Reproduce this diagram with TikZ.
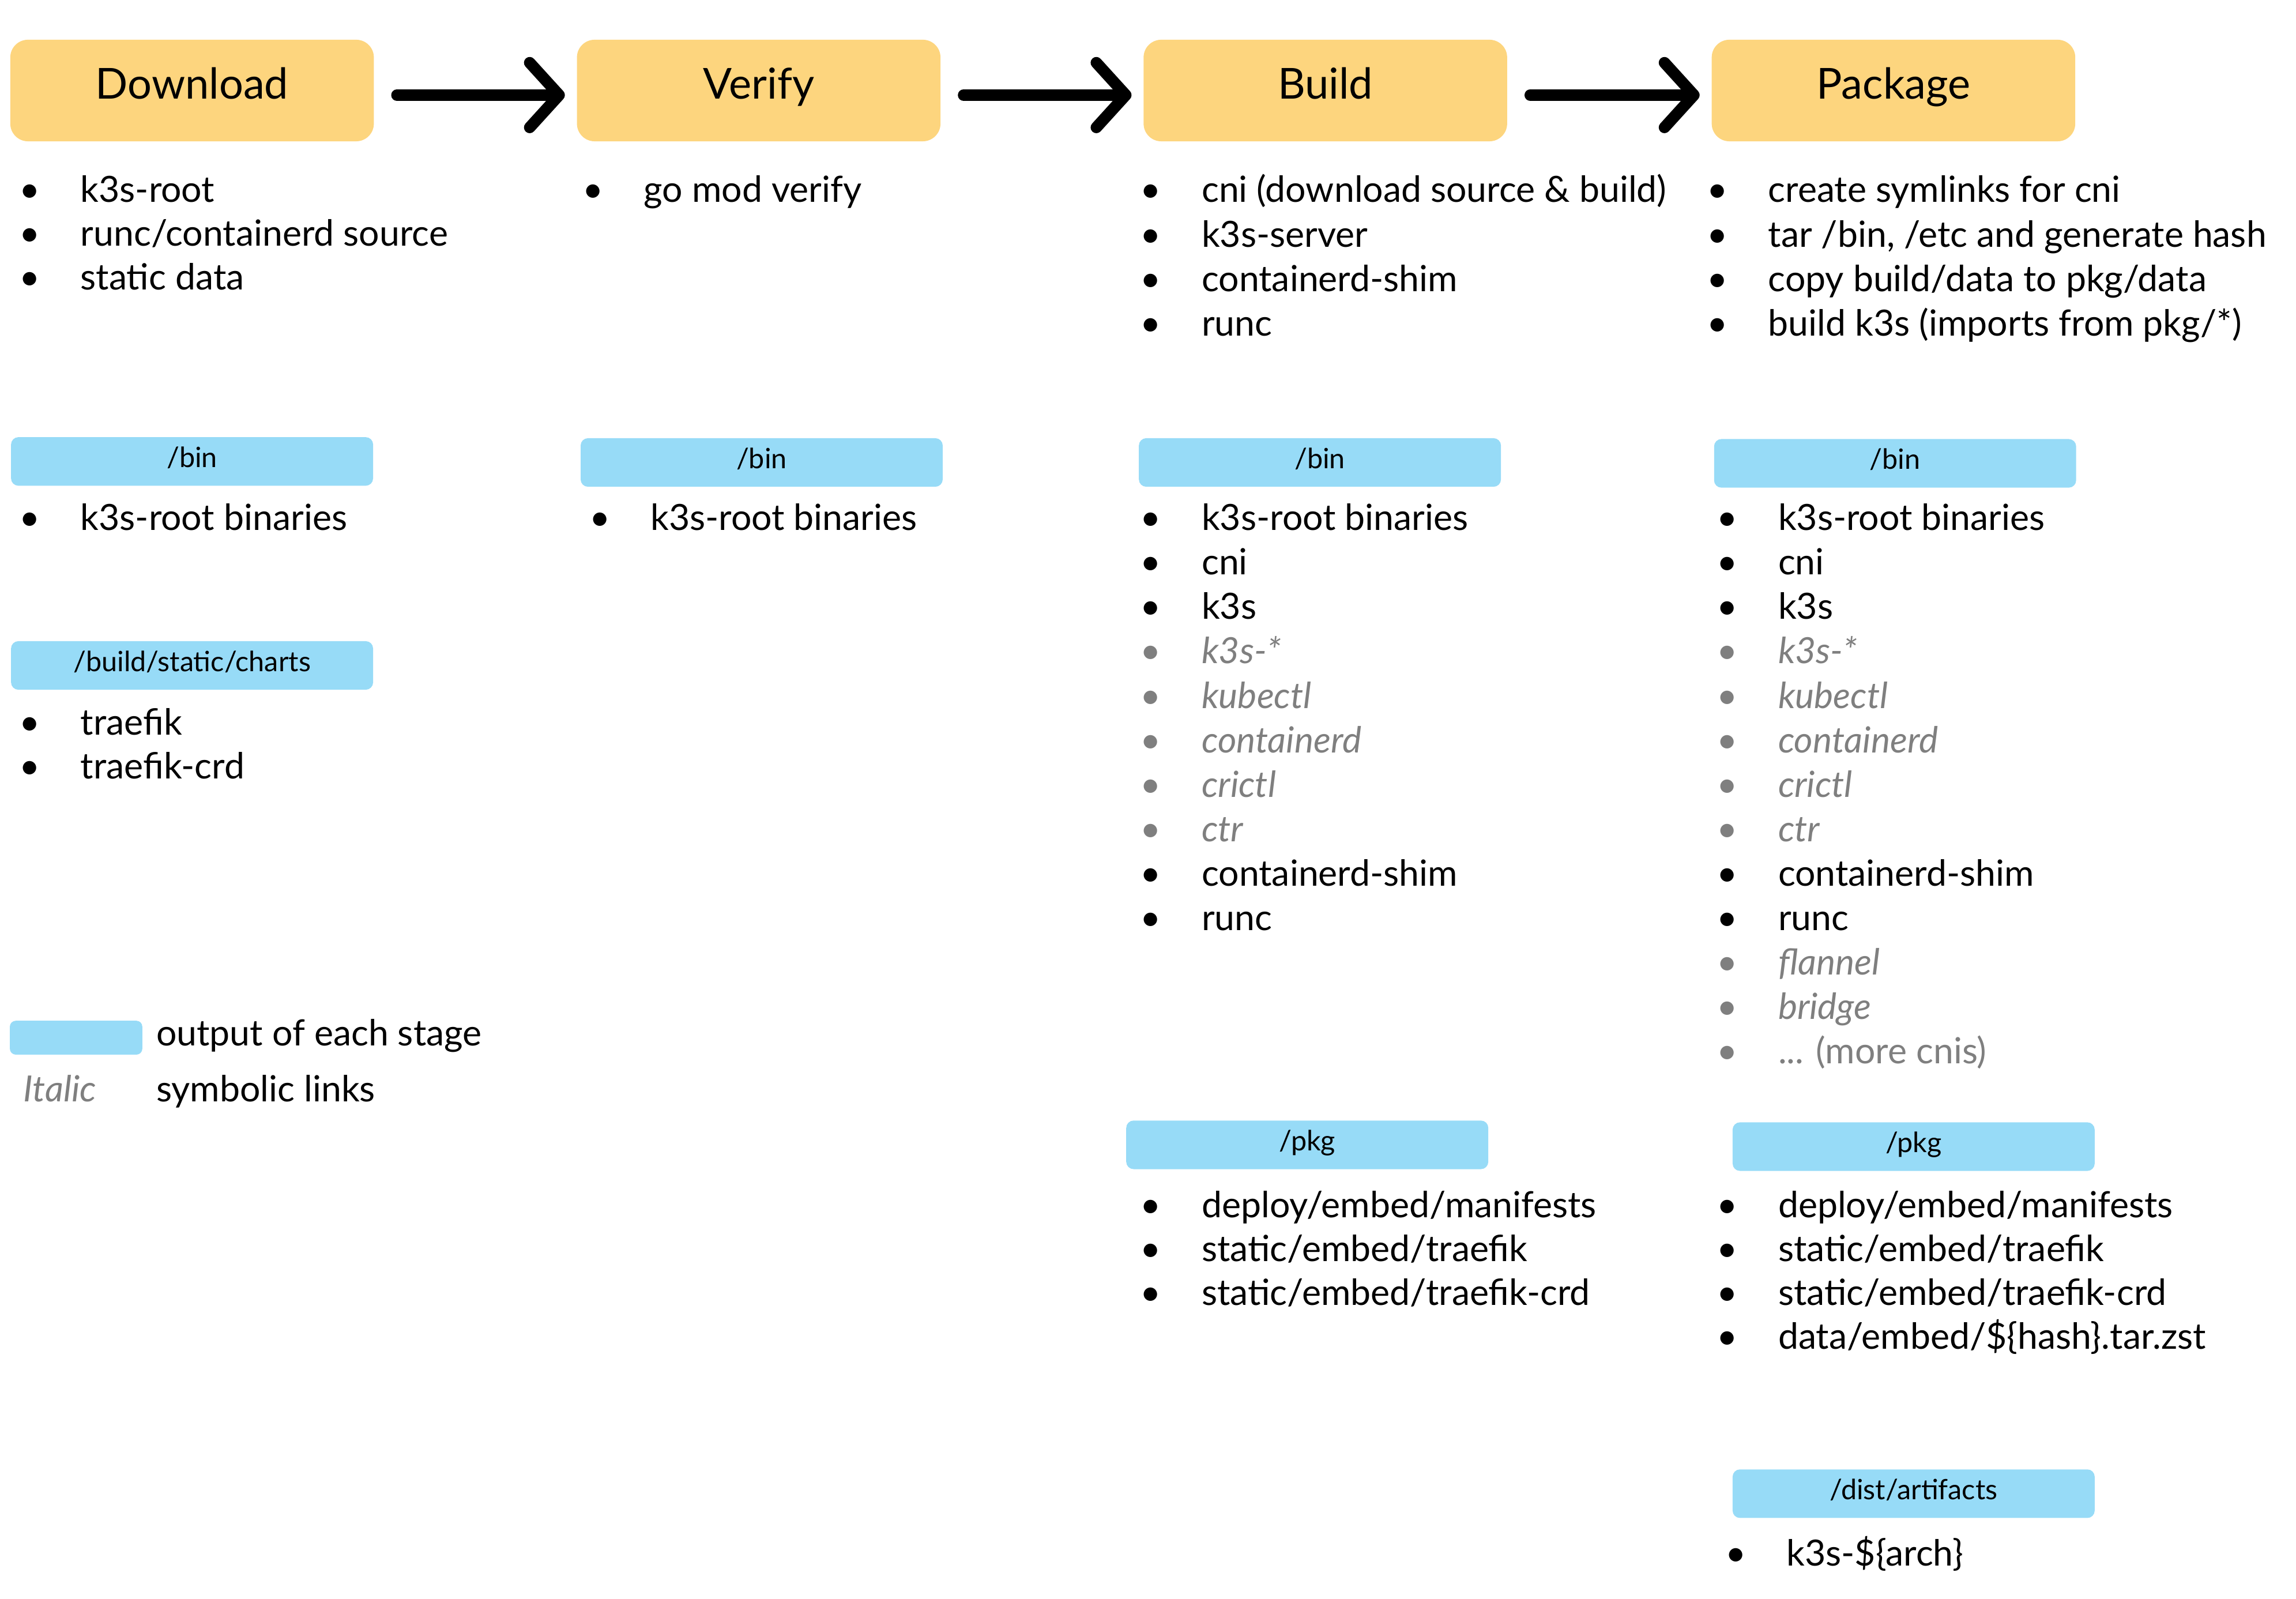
\documentclass[tikz,border=0pt]{standalone}
\usepackage{fontspec}
\setmainfont{Lato}
\usetikzlibrary{arrows.meta}
\definecolor{stagey}{HTML}{FDD57E}
\definecolor{outb}{HTML}{97DBF7}
\definecolor{symgray}{HTML}{7F7F7F}
\newcommand\bu[1]{\makebox[0pt]{\textbullet}\hspace{34.5pt}#1}
\newcommand\sy[1]{{\color{symgray}\makebox[0pt]{\textbullet}\hspace{34.5pt}\itshape #1}}
\newcommand\sg[1]{{\color{symgray}\makebox[0pt]{\textbullet}\hspace{34.5pt}#1}}
\newcommand\blist[5]{\foreach \t [count=\i] in {#5}{\node[item] (#1\i) at ({#2},{#3+(\i-1)*#4+8}) {\t};}}
\begin{document}
\begin{tikzpicture}[x=1pt,y=-1pt,
  stage/.style={fill=stagey, rounded corners=12pt, minimum width=247pt, minimum height=69pt, inner sep=0pt,
    font=\fontsize{29}{32}\selectfont, text height=22pt, text depth=10.8pt},
  outbox/.style={fill=outb, rounded corners=5pt, minimum width=246pt, minimum height=33pt, inner sep=0pt,
    font=\fontsize{19}{22}\selectfont, text height=14pt, text depth=6pt},
  item/.style={anchor=base west, inner sep=0pt, font=\fontsize{24.5}{28}\selectfont},
  flow/.style={line width=7.8pt, line cap=round, -{Straight Barb[length=20pt, width=44pt, round]},
    shorten <=15.5pt, shorten >=8pt}]
\useasboundingbox (0,0) rectangle (1560,1086);
% stages
\node[stage] (dl) at (130.5,61.5) {Download};
\node[stage] (vf) at (515.5,61.5) {Verify};
\node[stage] (bd) at (900.5,61.5) {Build};
\node[stage] (pk) at (1286.5,61.5) {Package};
\draw[flow] ([yshift=-3.1pt]dl.east) -- ([yshift=-3.1pt]vf.west);
\draw[flow] ([yshift=-3.1pt]vf.east) -- ([yshift=-3.1pt]bd.west);
\draw[flow] ([yshift=-3.1pt]bd.east) -- ([yshift=-3.1pt]pk.west);
% steps
\blist{dls}{20}{129.4}{29.8}{\bu{k3s-root},\bu{runc/containerd source},\bu{static data}}
\blist{vfs}{402.8}{129.4}{29.8}{\bu{go mod verify}}
\blist{bds}{781.8}{129.4}{30.3}{\bu{cni (download source \& build)},\bu{k3s-server},\bu{containerd-shim},\bu{runc}}
\blist{pks}{1166.7}{129.4}{30.3}{\bu{create symlinks for cni},\bu{tar /bin, /etc and generate hash},\bu{copy build/data to pkg/data},\bu{build k3s (imports from pkg/*)}}
% outputs
\node[outbox] (dlbin) at (130.5,313.5) {/bin};
\node[outbox] (vfbin) at (517.5,314.2) {/bin};
\node[outbox] (bdbin) at (896.8,314.2) {/bin};
\node[outbox] (pkbin) at (1287.6,314.8) {/bin};
\node[outbox] (dlch) at (130.5,452.1) {/build/static/charts};
\node[outbox] (bdpkg) at (888.2,777.8) {/pkg};
\node[outbox] (pkpkg) at (1300.2,779) {/pkg};
\node[outbox] (dist) at (1300.2,1014.8) {/dist/artifacts};
\blist{dlb}{20}{352.3}{30.2}{\bu{k3s-root binaries}}
\blist{vfb}{407.3}{352.3}{30.2}{\bu{k3s-root binaries}}
\blist{dlc}{20}{491.4}{29.8}{\bu{traefik},\bu{traefik-crd}}
\blist{bdb}{781.8}{352.3}{30.2}{\bu{k3s-root binaries},\bu{cni},\bu{k3s},\sy{k3s-*},\sy{kubectl},\sy{containerd},\sy{crictl},\sy{ctr},\bu{containerd-shim},\bu{runc}}
\blist{pkb}{1173.5}{352.3}{30.2}{\bu{k3s-root binaries},\bu{cni},\bu{k3s},\sy{k3s-*},\sy{kubectl},\sy{containerd},\sy{crictl},\sy{ctr},\bu{containerd-shim},\bu{runc},\sy{flannel},\sy{bridge},\sg{... (more cnis)}}
\blist{bdp}{781.8}{819.2}{29.8}{\bu{deploy/embed/manifests},\bu{static/embed/traefik},\bu{static/embed/traefik-crd}}
\blist{pkp}{1173.5}{819.2}{29.8}{\bu{deploy/embed/manifests},\bu{static/embed/traefik},\bu{static/embed/traefik-crd},\bu{data/embed/\$\{hash\}.tar.zst}}
\blist{dst}{1179.2}{1055.8}{30}{\bu{k3s-\$\{arch\}}}
% legend
\node[fill=outb, rounded corners=4pt, minimum width=90pt, minimum height=23pt, inner sep=0pt] (legbox) at (51.7,705) {};
\node[item] (legout) at (106,710.5) {output of each stage};
\node[item, text=symgray] (legit) at (15.7,748.5) {\itshape Italic};
\node[item] (legsym) at (106,748.5) {symbolic links};
\end{tikzpicture}
\end{document}
